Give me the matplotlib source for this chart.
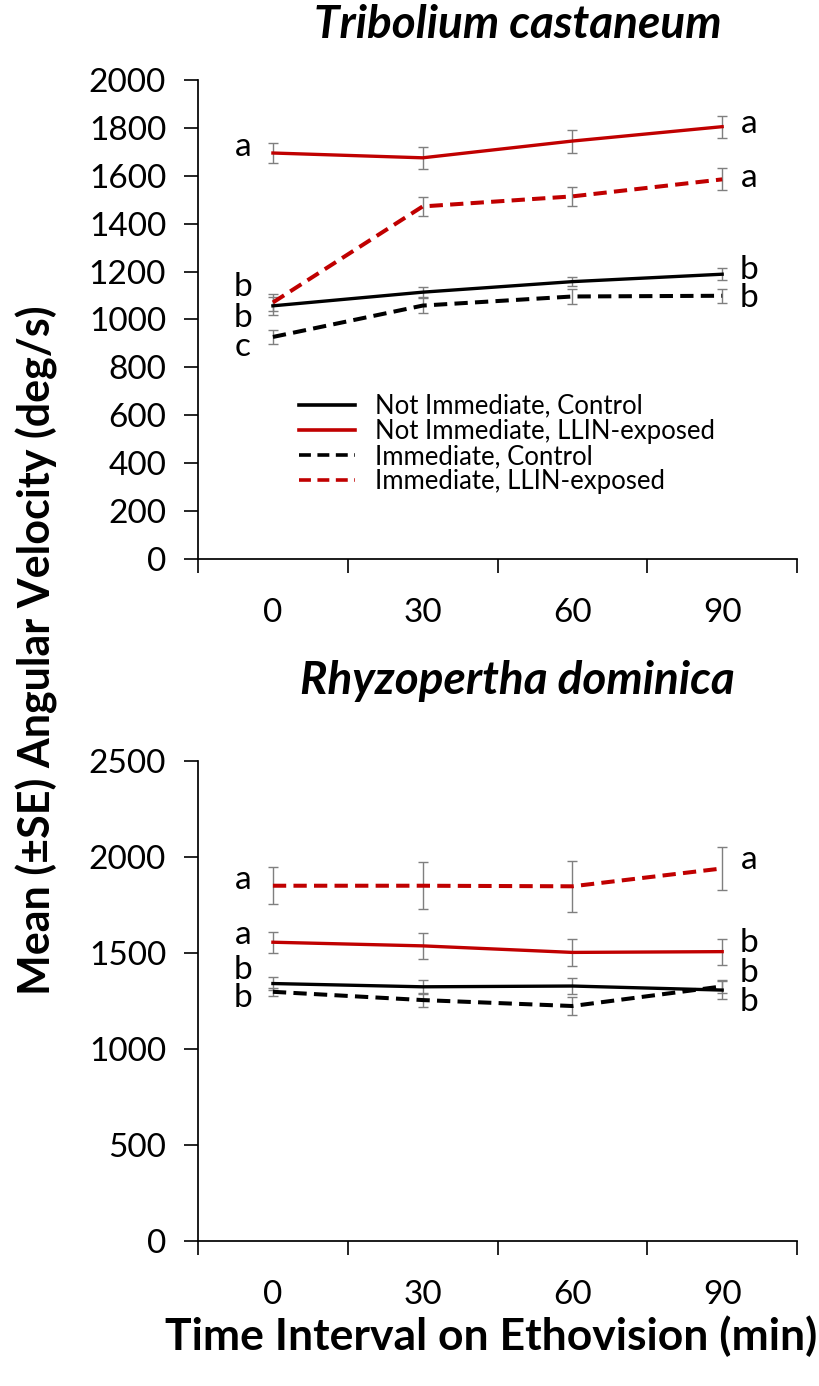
import matplotlib
matplotlib.use("Agg")
import matplotlib.pyplot as plt
from matplotlib.lines import Line2D
import numpy as np

plt.rcParams['font.family'] = ['Lato', 'DejaVu Sans']

times = ["0", "30", "60", "90"]
series = ["Not Immediate, Control", "Not Immediate, LLIN-exposed",
          "Immediate, Control", "Immediate, LLIN-exposed"]

# Tribolium castaneum: mean and SE per time interval
tc_mean = {
    "Not Immediate, Control": [1057, 1114, 1158, 1189],
    "Not Immediate, LLIN-exposed": [1695, 1675, 1745, 1805],
    "Immediate, Control": [927, 1058, 1096, 1099],
    "Immediate, LLIN-exposed": [1071, 1472, 1514, 1585],
}
tc_se = {
    "Not Immediate, Control": [38, 22, 20, 26],
    "Not Immediate, LLIN-exposed": [40, 47, 48, 46],
    "Immediate, Control": [28, 30, 31, 29],
    "Immediate, LLIN-exposed": [36, 40, 39, 46],
}
tc_left = ["b", "a", "c", "b"]
tc_right = ["b", "a", "b", "a"]
tc_left_y = [1006, 1720, 885, 1136]
tc_right_y = [1207, 1816, 1090, 1591]

# Rhyzopertha dominica
rd_mean = {
    "Not Immediate, Control": [1340, 1323, 1327, 1306],
    "Not Immediate, LLIN-exposed": [1555, 1536, 1502, 1506],
    "Immediate, Control": [1297, 1254, 1223, 1325],
    "Immediate, LLIN-exposed": [1849, 1849, 1846, 1939],
}
rd_se = {
    "Not Immediate, Control": [35, 35, 40, 45],
    "Not Immediate, LLIN-exposed": [55, 67, 70, 68],
    "Immediate, Control": [20, 35, 47, 35],
    "Immediate, LLIN-exposed": [95, 122, 133, 114],
}
rd_left = ["b", "a", "b", "a"]
rd_right = ["b", "b", "b", "a"]
rd_left_y = [1410, 1592, 1264, 1878]
rd_right_y = [1394, 1550, 1243, 1982]

styles = {
    "Not Immediate, Control": dict(color="black", lw=2.4, ls="-"),
    "Not Immediate, LLIN-exposed": dict(color="#C00000", lw=2.4, ls="-"),
    "Immediate, Control": dict(color="black", lw=2.9, ls=(0, (3.3, 1.8))),
    "Immediate, LLIN-exposed": dict(color="#C00000", lw=2.9, ls=(0, (3.3, 1.8))),
}

fig = plt.figure(figsize=(8.19, 13.86), dpi=100)
ax1 = fig.add_axes([0.2418, 0.5967, 0.7314, 0.3456])
ax2 = fig.add_axes([0.2418, 0.1046, 0.7314, 0.3466])

x = np.arange(len(times))


def draw_panel(ax, means, ses, ymax, ystep, left, left_y, right, right_y):
    for name in series:
        ax.errorbar(x, means[name], yerr=ses[name], fmt="none",
                    ecolor="#7f7f7f", elinewidth=1, capsize=3.6,
                    capthick=1, zorder=2)
    for name in series:
        st = styles[name]
        ax.plot(x, means[name], color=st["color"], lw=st["lw"],
                linestyle=st["ls"], dash_capstyle="butt", zorder=3,
                label=name)
    for lab, yy in zip(left, left_y):
        ax.text(-0.2, yy, lab, ha="center", va="center", fontsize=24)
    for lab, yy in zip(right, right_y):
        ax.text(3.18, yy, lab, ha="center", va="center", fontsize=24)

    ax.set_xlim(-0.5, 3.5)
    ax.set_ylim(0, ymax)
    ax.set_yticks(np.arange(0, ymax + 1, ystep))
    ax.set_xticks(x)
    ax.set_xticklabels(times)
    ax.set_xticks(np.arange(-0.5, 4, 1), minor=True)
    ax.tick_params(axis="x", which="major", length=0, pad=28, labelsize=24)
    ax.tick_params(axis="x", which="minor", length=10, width=1.2,
                   direction="out")
    ax.tick_params(axis="y", length=10, width=1.2, direction="out",
                   pad=13, labelsize=24)
    for s in ["top", "right"]:
        ax.spines[s].set_visible(False)
    for s in ["left", "bottom"]:
        ax.spines[s].set_linewidth(1.25)


draw_panel(ax1, tc_mean, tc_se, 2000, 200, tc_left, tc_left_y,
           tc_right, tc_right_y)
draw_panel(ax2, rd_mean, rd_se, 2500, 500, rd_left, rd_left_y,
           rd_right, rd_right_y)

handles = [Line2D([0], [0], color=styles[n]["color"], lw=2.6,
                  linestyle=(0, (3.3, 1.8)) if n.startswith("Imm") else "-",
                  dash_capstyle="butt")
           for n in series]
ax1.legend(handles, series, loc="upper left", bbox_to_anchor=(0.147, 0.372),
           frameon=False, fontsize=18.5, handlelength=2.2,
           handletextpad=0.75, labelspacing=0.01, borderpad=0)

fig.text(0.632, 0.982, "Tribolium castaneum", ha="center", va="center",
         fontsize=33, fontweight="bold", fontstyle="italic")
fig.text(0.632, 0.509, "Rhyzopertha dominica", ha="center", va="center",
         fontsize=33, fontweight="bold", fontstyle="italic")
fig.text(0.045, 0.531, "Mean (±SE) Angular Velocity (deg/s)", ha="center",
         va="center", rotation=90, fontsize=31, fontweight="bold")
fig.text(0.6, 0.036, "Time Interval on Ethovision (min)", ha="center",
         va="center", fontsize=32, fontweight="bold")

fig.savefig("out.png", dpi=100)
